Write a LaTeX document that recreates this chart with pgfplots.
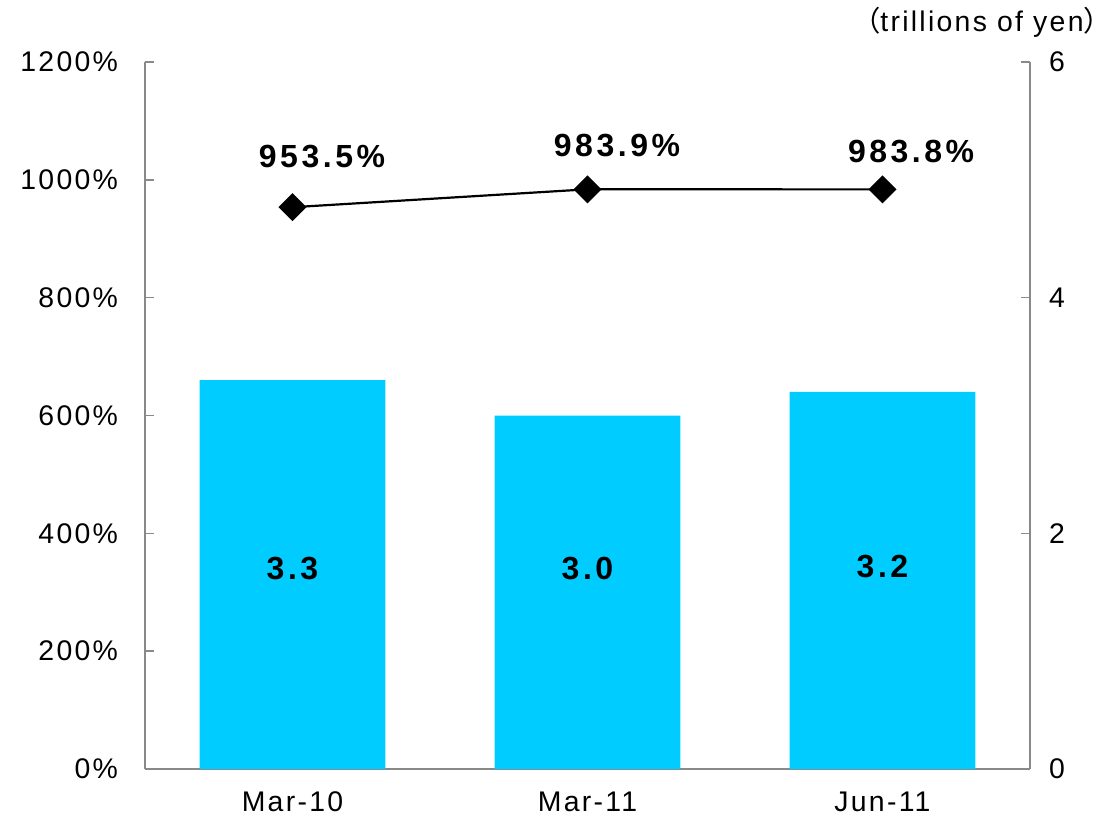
\documentclass[border=0pt]{standalone}
\usepackage{pgfplots}
\pgfplotsset{compat=1.18}
\usepackage{fontspec}
\setmainfont{Liberation Sans}[LetterSpace=8]
\newfontfamily\lblfont{Liberation Sans}[LetterSpace=11]
\newfontfamily\cjk{Noto Sans CJK JP}
\definecolor{barblue}{HTML}{00CCFF}
\definecolor{axgray}{HTML}{898989}
\tikzset{lbl/.style={font=\lblfont\fontsize{16}{18}\selectfont\bfseries}}
\begin{document}
\begin{tikzpicture}[font=\fontsize{14.2}{16}\selectfont]
\useasboundingbox (-72.5pt,-27.5pt) rectangle (484pt,384.5pt);
\pgfplotsset{
  common/.style={
    scale only axis, width=442.5pt, height=353.5pt,
    xmin=-0.5, xmax=2.5,
    tick align=inside,
    major tick length=4.5pt,
    every tick/.style={draw=axgray, line width=0.7pt},
    axis line style={draw=axgray, line width=0.7pt},
    /pgf/number format/assume math mode=true,
    /pgf/number format/1000 sep={},
  },
}
% Bars on right axis (trillions of yen)
\begin{axis}[common,
  axis y line*=right, axis x line*=bottom,
  ymin=0, ymax=6, ytick={0,2,4,6},
  yticklabel style={xshift=6pt},
  xtick={0,1,2}, xticklabels={Mar-10,Mar-11,Jun-11},
  x tick style={draw=none},
  xticklabel style={yshift=-8pt},
  extra x ticks={0.5,1.5}, extra x tick labels={},
  extra x tick style={tick style={draw=axgray, line width=0.7pt}},
]
\addplot[ybar, bar width=0.63, fill=barblue, draw=none] coordinates {(0,3.3) (1,3.0) (2,3.2)};
\node[lbl] at (axis cs:0,1.7) {3.3};
\node[lbl] at (axis cs:1,1.7) {3.0};
\node[lbl] at (axis cs:2,1.72) {3.2};
\end{axis}
% Line on left axis (%)
\begin{axis}[common,
  axis y line*=left, axis x line=none,
  ymin=0, ymax=1200, ytick={0,200,...,1200},
  yticklabel={\pgfmathprintnumber{\tick}\%},
  yticklabel style={xshift=-10pt},
]
\addplot[black, line width=1.1pt, mark=square*, mark size=4.4pt, mark options={rotate=45, fill=black}] coordinates {(0,953.5) (1,983.9) (2,983.8)};
\node[lbl] at (axis cs:0.1,1039) {953.5\%};
\node[lbl] at (axis cs:1.1,1058) {983.9\%};
\node[lbl] at (axis cs:2.097,1048) {983.8\%};
\end{axis}
\node at (418.5pt,373.5pt) {{\cjk （}trillions of yen{\cjk ）}};
\end{tikzpicture}
\end{document}
